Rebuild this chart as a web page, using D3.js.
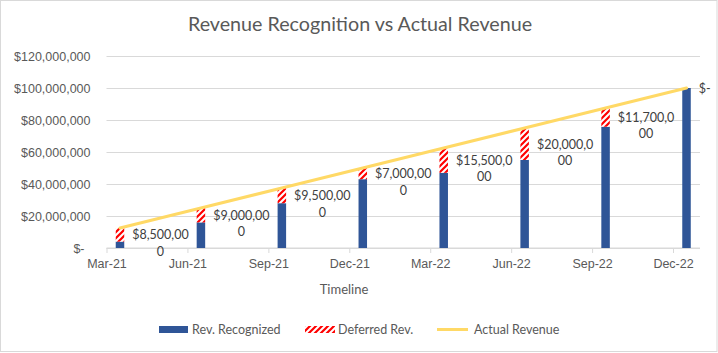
<!DOCTYPE html>
<html>
<head>
<meta charset="utf-8">
<script src="https://cdn.jsdelivr.net/npm/d3@7"></script>
<style>
  body { margin: 0; background: #fff; }
  svg { display: block; font-family: Lato, "Open Sans", sans-serif; }
</style>
</head>
<body>
<div id="chart"></div>
<script>
// quarters shown on the date axis (monthly base unit, labels every 3 months)
const quarters = ["Mar-21", "Jun-21", "Sep-21", "Dec-21", "Mar-22", "Jun-22", "Sep-22", "Dec-22"];
const recognizedRev = [4000000, 16000000, 28000000, 43000000, 47000000, 55000000, 75800000, 100000000];
const deferredRev = [8500000, 9000000, 9500000, 7000000, 15500000, 20000000, 11700000, 0];
const actualRevenue = [12500000, 25000000, 37500000, 50000000, 62500000, 75000000, 87500000, 100000000];
const yTicks = [0, 20000000, 40000000, 60000000, 80000000, 100000000, 120000000];

const W = 718, H = 353;
const plot = { left: 106.5, right: 700, top: 56, bottom: 248 };

const svg = d3.select("#chart").append("svg").attr("width", W).attr("height", H);

const defs = svg.append("defs");
const pat = defs.append("pattern").attr("id", "hatch")
    .attr("patternUnits", "userSpaceOnUse").attr("width", 6).attr("height", 6);
pat.append("rect").attr("width", 6).attr("height", 6).attr("fill", "#fff");
pat.append("path").attr("d", "M-1,1 l2,-2 M0,6 l6,-6 M5,7 l2,-2")
    .attr("stroke", "#FF0000").attr("stroke-width", 2.2);

// chart frame
svg.append("rect").attr("x", 0.5).attr("y", 0.5).attr("width", 716.5).attr("height", 351)
    .attr("fill", "#fff").attr("stroke", "#D9D9D9");

// month index: 0 = Mar-21 ... 22 = Jan-23
const x = d3.scaleLinear().domain([0, 22]).range([plot.left, plot.right]);
const y = d3.scaleLinear().domain([0, 120000000]).range([plot.bottom, plot.top]);
const barW = 8.5;
const cx = i => x(i * 3 + 0.5);

svg.append("text").attr("x", 360).attr("y", 31).attr("text-anchor", "middle")
    .attr("fill", "#595959").style("font-size", "19.7px").text("Revenue Recognition vs Actual Revenue");

// gridlines + y labels
const yAxis = svg.append("g").attr("transform", `translate(${plot.left},0)`)
    .call(d3.axisLeft(y).tickValues(yTicks).tickSize(-(plot.right - plot.left)).tickPadding(16)
        .tickFormat(d => d === 0 ? "$-" : d3.format("$,")(d)));
yAxis.select(".domain").remove();
yAxis.selectAll(".tick line").attr("stroke", "#D9D9D9");
yAxis.selectAll(".tick text").attr("fill", "#595959").style("font-size", "12.5px")
    .attr("dx", d => d === 0 ? -6 : 0);

// x axis
const xAxis = svg.append("g").attr("transform", `translate(0,${plot.bottom})`)
    .call(d3.axisBottom(x).tickValues(quarters.map((q, i) => i * 3)).tickSize(5).tickPadding(6)
        .tickFormat((d, i) => quarters[i]));
xAxis.select(".domain").attr("stroke", "#D9D9D9").attr("d", `M${plot.left},0H${plot.right}`);
xAxis.selectAll(".tick line").attr("stroke", "#D9D9D9");
xAxis.selectAll(".tick text").attr("fill", "#595959").style("font-size", "12.5px");

svg.append("text").attr("x", 344).attr("y", 294).attr("text-anchor", "middle")
    .attr("fill", "#595959").style("font-size", "13px").text("Timeline");

// stacked bars
const bars = svg.append("g");
bars.selectAll(".rec").data(recognizedRev).join("rect").attr("class", "rec")
    .attr("x", (d, i) => cx(i) - barW / 2).attr("width", barW)
    .attr("y", d => y(d)).attr("height", d => y(0) - y(d)).attr("fill", "#2F5597");
bars.selectAll(".def").data(deferredRev).join("rect").attr("class", "def")
    .attr("x", (d, i) => cx(i) - barW / 2).attr("width", barW)
    .attr("y", (d, i) => y(recognizedRev[i] + d))
    .attr("height", (d, i) => y(recognizedRev[i]) - y(recognizedRev[i] + d))
    .attr("fill", "url(#hatch)");

// actual revenue line
svg.append("path").datum(actualRevenue)
    .attr("d", d3.line().x((d, i) => cx(i)).y(d => y(d)))
    .attr("fill", "none").attr("stroke", "#FFD966").attr("stroke-width", 3).attr("stroke-linecap", "round");

// deferred labels, wrapped like Excel does (9 characters per line)
const fmtLabel = d => d === 0 ? "$-" : d3.format("$,")(d);
deferredRev.forEach((d, i) => {
    const s = fmtLabel(d);
    const lines = s.length > 9 ? [s.slice(0, 9), s.slice(9)] : [s];
    const midY = y(recognizedRev[i] + d / 2);
    const t = svg.append("text").attr("fill", "#404040").style("font-size", "12.5px")
        .attr("text-anchor", "middle");
    lines.forEach((ln, k) => t.append("tspan").attr("dy", k === 0 ? 0 : 16.5).text(ln));
    const w = d3.max(t.selectAll("tspan").nodes(), n => n.getComputedTextLength());
    const lx = cx(i) + barW / 2 + 8 + w / 2;
    t.attr("y", midY + 4.5).selectAll("tspan").attr("x", lx);
});

// legend
const lg = svg.append("g").style("font-size", "12.5px").attr("fill", "#595959");
lg.append("rect").attr("x", 159).attr("y", 326).attr("width", 29).attr("height", 7).attr("fill", "#2F5597");
lg.append("text").attr("x", 192).attr("y", 333.5).text("Rev. Recognized");
lg.append("rect").attr("x", 305).attr("y", 326).attr("width", 30).attr("height", 7).attr("fill", "url(#hatch)");
lg.append("text").attr("x", 338).attr("y", 333.5).text("Deferred Rev.");
lg.append("line").attr("x1", 437).attr("x2", 468).attr("y1", 329.5).attr("y2", 329.5)
    .attr("stroke", "#FFD966").attr("stroke-width", 3);
lg.append("text").attr("x", 474).attr("y", 333.5).text("Actual Revenue");
</script>
</body>
</html>
